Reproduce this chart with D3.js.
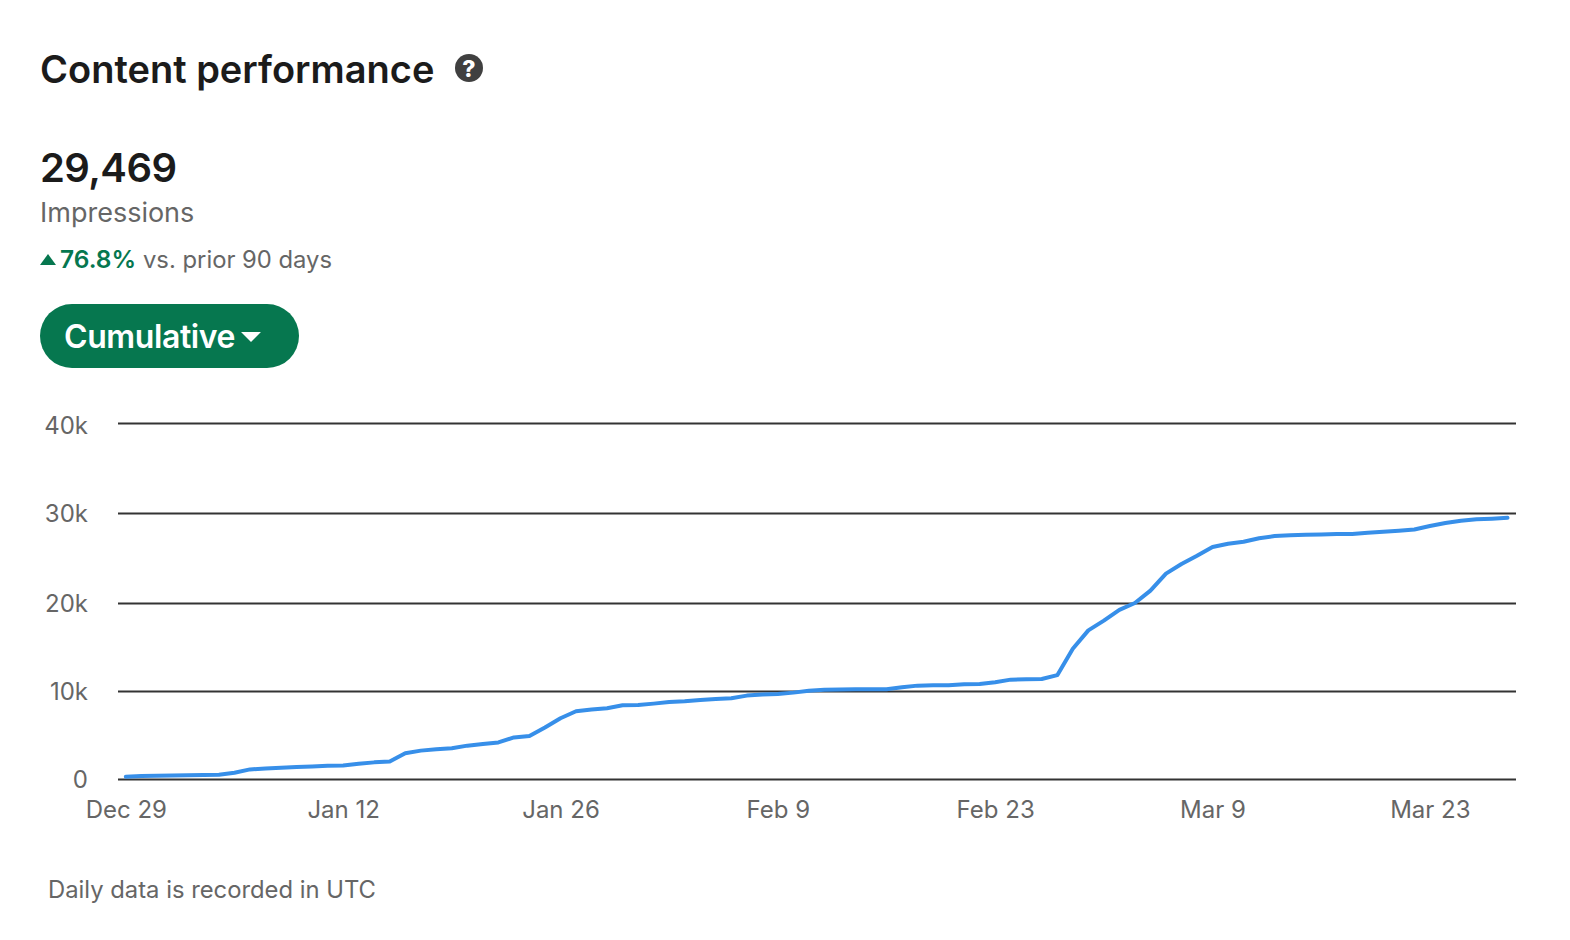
<!DOCTYPE html>
<html>
<head>
<meta charset="utf-8">
<title>Content performance</title>
<script src="https://cdn.jsdelivr.net/npm/d3@7"></script>
<style>
  html, body { margin: 0; padding: 0; background: #fff; }
  svg { display: block; font-family: Inter, "Noto Sans", sans-serif; }
  .axis text { font-family: Inter, "Noto Sans", sans-serif; font-size: 24px; fill: #666; }
  .axis .domain { display: none; }
  .grid line { stroke: #333; stroke-width: 2; }
  .axis line { display: none; }
</style>
</head>
<body>
<div id="vis"></div>
<script>
// values, one per day starting Dec 29
const START_DAY = "2025-12-29";
const IMPRESSIONS = [
  260, 340, 375, 410, 430, 450, 490, 710, 1090, 1200,
  1275, 1350, 1425, 1500, 1540, 1725, 1890, 1990, 2925, 3225,
  3375, 3490, 3790, 3975, 4160, 4725, 4875, 5850, 6900, 7700,
  7900, 8050, 8375, 8410, 8565, 8755, 8830, 8980, 9100, 9170,
  9475, 9590, 9665, 9815, 10040, 10150, 10160, 10190, 10200, 10200,
  10420, 10610, 10650, 10650, 10760, 10800, 10990, 11290, 11330, 11370,
  11800, 14800, 16890, 18000, 19220, 20000, 21370, 23260, 24330, 25250,
  26220, 26590, 26800, 27200, 27440, 27530, 27570, 27620, 27660, 27660,
  27800, 27920, 28030, 28170, 28560, 28890, 29150, 29300, 29370, 29469
];
const X_TICK_DAYS = [0, 14, 28, 42, 56, 70, 84];
const X_TICK_LABELS = ["Dec 29", "Jan 12", "Jan 26", "Feb 9", "Feb 23", "Mar 9", "Mar 23"];
const Y_TICKS = [0, 10000, 20000, 30000, 40000];
const Y_TICK_LABELS = ["0", "10k", "20k", "30k", "40k"];

const WIDTH = 1570;
const HEIGHT = 940;
const GREEN = "#06774f";

const FRAME = d3.select("#vis")
  .append("svg")
    .attr("width", WIDTH)
    .attr("height", HEIGHT);

const day0 = new Date(START_DAY + "T00:00:00Z");
const dayOf = (i) => d3.utcDay.offset(day0, i);

const X_SCALE = d3.scaleUtc()
  .domain([dayOf(0), dayOf(IMPRESSIONS.length - 1)])
  .range([125.8, 1507.5]);
// neither the gridlines nor the labels are evenly spaced in the picture
const Y_SCALE = d3.scaleLinear()
  .domain(Y_TICKS)
  .range([779, 691, 603, 513, 423]);
const Y_LABEL_SCALE = d3.scaleLinear()
  .domain(Y_TICKS)
  .range([780, 691.6, 604.2, 513.8, 425.4]);

// header bits
FRAME.append("text")
  .attr("x", 40).attr("y", 83)
  .attr("font-size", 38).attr("font-weight", 600)
  .attr("fill", "#1b1b1b")
  .text("Content performance");

FRAME.append("circle")
  .attr("cx", 469).attr("cy", 68).attr("r", 14)
  .attr("fill", "#404040");
FRAME.append("text")
  .attr("x", 469).attr("y", 76.5)
  .attr("text-anchor", "middle")
  .attr("font-size", 23).attr("font-weight", 800)
  .attr("fill", "#fff")
  .text("?");

FRAME.append("text")
  .attr("x", 40).attr("y", 182)
  .attr("font-size", 40).attr("font-weight", 600)
  .attr("letter-spacing", -0.6)
  .attr("fill", "#1b1b1b")
  .text("29,469");

FRAME.append("text")
  .attr("x", 40).attr("y", 222)
  .attr("font-size", 27)
  .attr("fill", "#666")
  .text("Impressions");

FRAME.append("path")
  .attr("d", d3.symbol(d3.symbolTriangle, 120))
  .attr("transform", "translate(48,261.3) scale(0.96,0.76)")
  .attr("fill", GREEN);
FRAME.append("text")
  .attr("x", 60).attr("y", 268)
  .attr("font-size", 24.5).attr("font-weight", 600)
  .attr("fill", GREEN)
  .text("76.8%");
FRAME.append("text")
  .attr("x", 143).attr("y", 268)
  .attr("font-size", 23.8)
  .attr("fill", "#666")
  .text("vs. prior 90 days");

// dropdown pill
FRAME.append("rect")
  .attr("x", 40).attr("y", 304)
  .attr("width", 259).attr("height", 64)
  .attr("rx", 32)
  .attr("fill", GREEN);
FRAME.append("text")
  .attr("x", 64).attr("y", 348)
  .attr("font-size", 32).attr("font-weight", 600)
  .attr("letter-spacing", -0.4)
  .attr("fill", "#fff")
  .text("Cumulative");
FRAME.append("path")
  .attr("d", d3.symbol(d3.symbolTriangle, 130))
  .attr("transform", "translate(251,335.3) rotate(180) scale(1.15,0.67)")
  .attr("fill", "#fff");

// gridlines
FRAME.append("g")
  .attr("class", "grid")
  .attr("transform", "translate(118,0)")
  .call(d3.axisLeft(Y_SCALE)
    .tickValues(Y_TICKS)
    .tickSize(-1398)
    .tickFormat(""))
  .call((g) => g.select(".domain").remove());

// axes
FRAME.append("g")
  .attr("class", "axis y-axis")
  .attr("transform", "translate(88,0)")
  .call(d3.axisLeft(Y_LABEL_SCALE)
    .tickValues(Y_TICKS)
    .tickSize(0)
    .tickPadding(0)
    .tickFormat((d, i) => Y_TICK_LABELS[i]));

FRAME.append("g")
  .attr("class", "axis x-axis")
  .attr("transform", "translate(0," + Y_SCALE(0) + ")")
  .call(d3.axisBottom(X_SCALE)
    .tickValues(X_TICK_DAYS.map(dayOf))
    .tickSize(0)
    .tickPadding(21.5)
    .tickFormat((d, i) => X_TICK_LABELS[i]));

// the line
const line = d3.line()
  .x((d, i) => X_SCALE(dayOf(i)))
  .y((d) => Y_SCALE(d));

FRAME.append("path")
  .datum(IMPRESSIONS)
  .attr("d", line)
  .attr("fill", "none")
  .attr("stroke", "#378fe9")
  .attr("stroke-width", 4)
  .attr("stroke-linejoin", "round")
  .attr("stroke-linecap", "round");

FRAME.append("text")
  .attr("x", 48).attr("y", 898)
  .attr("font-size", 23.8)
  .attr("fill", "#666")
  .text("Daily data is recorded in UTC");
</script>
</body>
</html>
